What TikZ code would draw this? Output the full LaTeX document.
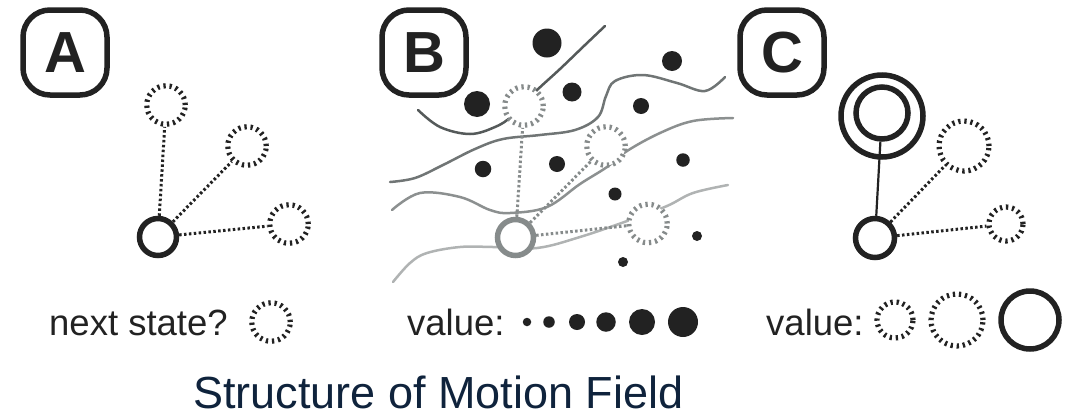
\documentclass[tikz,border=0pt]{standalone}
\usepackage{fontspec}
\setmainfont{Liberation Sans}
\definecolor{ink}{HTML}{222222}
\definecolor{field}{HTML}{868B8B}
\definecolor{navy}{HTML}{0F233C}
\definecolor{flowA}{HTML}{555A5A}
\definecolor{flowB}{HTML}{707575}
\definecolor{flowC}{HTML}{8C9090}
\definecolor{flowD}{HTML}{B0B3B3}
\tikzset{
  panelbox/.style={draw=ink, line width=5.5pt, rounded corners=27pt,
    minimum width=84pt, minimum height=85pt, inner sep=0pt, text=ink,
    font=\fontsize{58}{58}\selectfont\bfseries},
  current/.style={circle, draw=#1, fill=white, line width=5.5pt, inner sep=0pt},
  nextstate/.style={circle, draw=#1, fill=white, line width=5.2pt,
    dash pattern=on 2.3pt off 3.8pt, inner sep=0pt},
  link/.style={draw=#1, line width=3pt, dash pattern=on 2.5pt off 2.4pt},
  valuedot/.style={circle, fill=ink, inner sep=0pt},
  flow/.style={line width=2.5pt, line cap=round},
  legend/.style={anchor=base west, inner sep=0pt, text=ink,
    font=\fontsize{36.5}{40}\selectfont},
}
\begin{document}
\begin{tikzpicture}[x=1pt, y=-1pt]
\useasboundingbox (0,0) rectangle (1081,418);

% ---------- panel A: current state and candidate next states ----------
\node[panelbox] (boxA) at (65,52.5) {A};
\node[current=ink, minimum size=37pt] (a0) at (158,237) {};
\node[nextstate=ink, minimum size=38.5pt] (a1) at (166,105) {};
\node[nextstate=ink, minimum size=38.5pt] (a2) at (247,146) {};
\node[nextstate=ink, minimum size=38.5pt] (a3) at (289,224) {};
\draw[link=ink] (a0) -- (a1);
\draw[link=ink] (a0) -- (a2);
\draw[link=ink] (a0) -- (a3);

% ---------- panel B: states over the motion field ----------
\node[panelbox] (boxB) at (424,52.5) {B};
\draw[flow, draw=flowA] plot[smooth, tension=0.6] coordinates {
  (418,110) (440,127) (470,134) (495,127) (512,116) (535,92) (560,69) (585,45) (605,26)};
\draw[flow, draw=flowB] plot[smooth, tension=0.6] coordinates {
  (390,182) (415,178) (443,165) (475,149) (503,139) (540,135) (575,130)
  (598,117) (606,96) (615,81) (643,75) (677,83) (705,91) (725,77)};
\draw[flow, draw=flowC] plot[smooth, tension=0.6] coordinates {
  (392,210) (420,193) (460,197) (490,210) (510,213) (547,207) (580,184)
  (607,167) (627,151) (660,133) (693,121) (733,118)};
\draw[flow, draw=flowD] plot[smooth, tension=0.6] coordinates {
  (393,282) (410,263) (427,253) (460,247) (493,247) (537,248) (580,237)
  (630,220) (667,206) (693,193) (728,185)};

\node[valuedot, minimum size=29pt] (d1) at (547,43) {};
\node[valuedot, minimum size=26pt] (d2) at (477,104) {};
\node[valuedot, minimum size=19pt] (d3) at (572,92) {};
\node[valuedot, minimum size=20pt] (d4) at (672,61) {};
\node[valuedot, minimum size=16pt] (d5) at (641,106) {};
\node[valuedot, minimum size=16.5pt] (d6) at (483,169) {};
\node[valuedot, minimum size=16pt] (d7) at (557,164) {};
\node[valuedot, minimum size=13.5pt] (d8) at (683,160) {};
\node[valuedot, minimum size=13pt] (d9) at (615,194) {};
\node[valuedot, minimum size=10pt] (d10) at (697,236) {};
\node[valuedot, minimum size=10pt] (d11) at (623,262) {};

\node[current=field, minimum size=36pt] (b0) at (515.5,237.5) {};
\node[nextstate=field, minimum size=38.5pt] (b1) at (524,106) {};
\node[nextstate=field, minimum size=38.5pt] (b2) at (606,146) {};
\node[nextstate=field, minimum size=38.5pt] (b3) at (648,223.5) {};
\draw[link=field] (b0) -- (b1);
\draw[link=field] (b0) -- (b2);
\draw[link=field] (b0) -- (b3);

% ---------- panel C: values of states ----------
\node[panelbox] (boxC) at (782,52.5) {C};
\node[current=ink, minimum size=82pt] (cout) at (882,116) {};
\node[current=ink, minimum size=52pt] (cin) at (882,113) {};
\node[current=ink, minimum size=39pt] (c0) at (875,238) {};
\node[nextstate=ink, minimum size=50pt] (c1) at (964,146) {};
\node[nextstate=ink, minimum size=34pt] (c2) at (1006,224) {};
\draw[draw=ink, line width=2.2pt] (cin) -- (c0);
\draw[link=ink] (c0) -- (c1);
\draw[link=ink] (c0) -- (c2);

% ---------- legends ----------
\node[legend] (legA) at (49,335) {next state?};
\node[nextstate=ink, minimum size=38.5pt] (legAc) at (271,322) {};

\node[legend] (legB) at (407,335) {value:};
\node[valuedot, minimum size=8.5pt] (v1) at (527,322) {};
\node[valuedot, minimum size=11.5pt] (v2) at (549,322) {};
\node[valuedot, minimum size=16pt] (v3) at (577,322) {};
\node[valuedot, minimum size=19.5pt] (v4) at (606,322) {};
\node[valuedot, minimum size=26pt] (v5) at (642,322) {};
\node[valuedot, minimum size=30pt] (v6) at (683,322) {};

\node[legend] (legC) at (766,335) {value:};
\node[nextstate=ink, minimum size=36pt] (w1) at (895,320) {};
\node[nextstate=ink, minimum size=52pt] (w2) at (957,320) {};
\node[current=ink, minimum size=58pt] (w3) at (1030,320) {};

% ---------- title ----------
\node[anchor=base west, inner sep=0pt, text=navy,
  font=\fontsize{45}{50}\selectfont] (title) at (193,408) {Structure of Motion Field};
\end{tikzpicture}
\end{document}
